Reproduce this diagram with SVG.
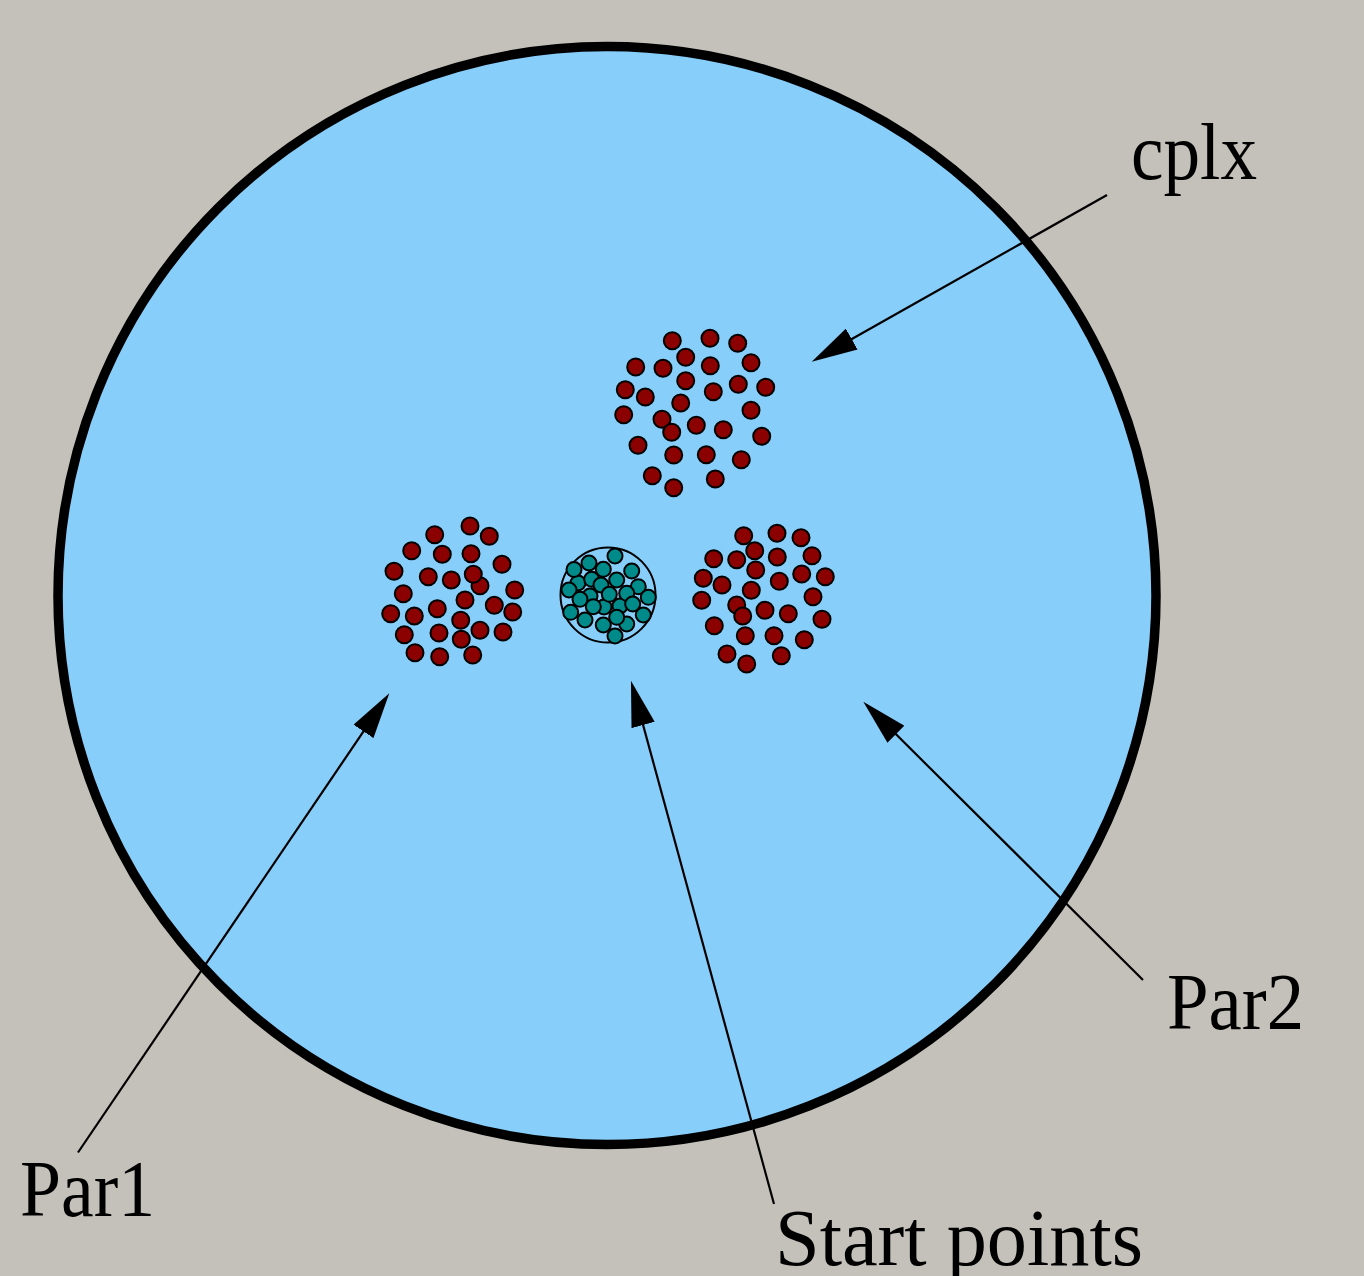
<svg xmlns="http://www.w3.org/2000/svg" width="1364" height="1276" viewBox="0 0 1364 1276">
<defs>
<style>
.r{fill:#8b0000;stroke:#000;stroke-width:2}
.t{fill:#008b8b;stroke:#000;stroke-width:2}
.lbl{font-family:"Liberation Serif","DejaVu Serif",serif;font-size:80px;fill:#000}
.ln{stroke:#000;stroke-width:2.2;fill:none;marker-end:url(#ah)}
</style>
<marker id="ah" viewBox="0 0 46 24" refX="36" refY="12" markerWidth="46" markerHeight="24" markerUnits="userSpaceOnUse" orient="auto">
<path d="M0,0 L46,12 L0,24 z" fill="#000"/>
</marker>
</defs>
<rect width="1364" height="1276" fill="#c4c1ba"/>
<g id="domain"><circle cx="607" cy="595.5" r="549" fill="#87cefa" stroke="#000" stroke-width="9.5"/></g>
<g id="cplx-cluster">
<circle class="r" cx="672.3" cy="340.7" r="8.5"/><circle class="r" cx="710" cy="338.3" r="8.5"/><circle class="r" cx="737.7" cy="343.3" r="8.5"/>
<circle class="r" cx="685.7" cy="357.3" r="8.5"/><circle class="r" cx="635.7" cy="367" r="8.5"/><circle class="r" cx="663" cy="368.3" r="8.5"/>
<circle class="r" cx="710.3" cy="365.7" r="8.5"/><circle class="r" cx="751" cy="362.7" r="8.5"/><circle class="r" cx="685.7" cy="380.7" r="8.5"/>
<circle class="r" cx="738.3" cy="384.3" r="8.5"/><circle class="r" cx="765.7" cy="387.3" r="8.5"/><circle class="r" cx="625.3" cy="389.7" r="8.5"/>
<circle class="r" cx="645.3" cy="397" r="8.5"/><circle class="r" cx="713.3" cy="391.7" r="8.5"/><circle class="r" cx="680.7" cy="403" r="8.5"/>
<circle class="r" cx="751" cy="410.3" r="8.5"/><circle class="r" cx="623.7" cy="414.7" r="8.5"/><circle class="r" cx="662" cy="419.3" r="8.5"/>
<circle class="r" cx="671.7" cy="432.3" r="8.5"/><circle class="r" cx="696.3" cy="425.3" r="8.5"/><circle class="r" cx="723.3" cy="429.7" r="8.5"/>
<circle class="r" cx="761.7" cy="436.3" r="8.5"/><circle class="r" cx="638" cy="445.3" r="8.5"/><circle class="r" cx="673.7" cy="455" r="8.5"/>
<circle class="r" cx="706.3" cy="454.7" r="8.5"/><circle class="r" cx="741.3" cy="459.7" r="8.5"/><circle class="r" cx="652.3" cy="475.7" r="8.5"/>
<circle class="r" cx="715.3" cy="479" r="8.5"/><circle class="r" cx="673.7" cy="487.7" r="8.5"/>
</g>
<g id="par1-cluster">
<circle class="r" cx="470" cy="526" r="8.5"/><circle class="r" cx="434.7" cy="534.7" r="8.5"/><circle class="r" cx="489.3" cy="536.3" r="8.5"/>
<circle class="r" cx="411.7" cy="550.7" r="8.5"/><circle class="r" cx="442.3" cy="554.3" r="8.5"/><circle class="r" cx="471" cy="553.7" r="8.5"/>
<circle class="r" cx="502" cy="564.3" r="8.5"/><circle class="r" cx="394" cy="571.3" r="8.5"/><circle class="r" cx="428.3" cy="576.7" r="8.5"/>
<circle class="r" cx="451.3" cy="580" r="8.5"/><circle class="r" cx="480" cy="585.7" r="8.5"/><circle class="r" cx="473.3" cy="574.3" r="8.5"/>
<circle class="r" cx="514.7" cy="590" r="8.5"/><circle class="r" cx="403.3" cy="593.7" r="8.5"/><circle class="r" cx="465" cy="600" r="8.5"/>
<circle class="r" cx="494.3" cy="605.3" r="8.5"/><circle class="r" cx="512.7" cy="612" r="8.5"/><circle class="r" cx="390.7" cy="613.7" r="8.5"/>
<circle class="r" cx="414.3" cy="616" r="8.5"/><circle class="r" cx="437.3" cy="608.7" r="8.5"/><circle class="r" cx="460.7" cy="620.3" r="8.5"/>
<circle class="r" cx="404.3" cy="634.7" r="8.5"/><circle class="r" cx="439" cy="633" r="8.5"/><circle class="r" cx="461.3" cy="639.3" r="8.5"/>
<circle class="r" cx="480" cy="630.3" r="8.5"/><circle class="r" cx="503" cy="632" r="8.5"/><circle class="r" cx="415" cy="652.7" r="8.5"/>
<circle class="r" cx="439.7" cy="656.7" r="8.5"/><circle class="r" cx="472.7" cy="655" r="8.5"/>
</g>
<g id="start-points">
<circle cx="608" cy="595" r="47.5" fill="none" stroke="#000" stroke-width="2"/>
<circle class="t" cx="590" cy="596" r="7.5"/><circle class="t" cx="604" cy="607" r="7.5"/><circle class="t" cx="620" cy="606" r="7.5"/>
<circle class="t" cx="578" cy="583" r="7.5"/>
<circle class="t" cx="615" cy="556" r="7.5"/><circle class="t" cx="589" cy="563" r="7.5"/><circle class="t" cx="574" cy="569.5" r="7.5"/>
<circle class="t" cx="603.3" cy="569.3" r="7.5"/><circle class="t" cx="631.7" cy="571" r="7.5"/><circle class="t" cx="591.7" cy="579.3" r="7.5"/>
<circle class="t" cx="616.7" cy="580" r="7.5"/><circle class="t" cx="601" cy="585" r="7.5"/><circle class="t" cx="638.3" cy="586.7" r="7.5"/>
<circle class="t" cx="569" cy="590" r="7.5"/><circle class="t" cx="609.3" cy="594.3" r="7.5"/><circle class="t" cx="626.7" cy="593.3" r="7.5"/>
<circle class="t" cx="648.3" cy="597.3" r="7.5"/><circle class="t" cx="580" cy="599.3" r="7.5"/><circle class="t" cx="593.3" cy="606.7" r="7.5"/>
<circle class="t" cx="632.7" cy="604" r="7.5"/><circle class="t" cx="570.7" cy="612.3" r="7.5"/><circle class="t" cx="585" cy="620" r="7.5"/>
<circle class="t" cx="643.3" cy="615" r="7.5"/><circle class="t" cx="603.3" cy="625" r="7.5"/><circle class="t" cx="626.7" cy="624" r="7.5"/>
<circle class="t" cx="616.7" cy="617.3" r="7.5"/><circle class="t" cx="615" cy="636" r="7.5"/>
</g>
<g id="par2-cluster">
<circle class="r" cx="743.7" cy="535.7" r="8.5"/><circle class="r" cx="777" cy="533.3" r="8.5"/><circle class="r" cx="801" cy="537.7" r="8.5"/>
<circle class="r" cx="754.7" cy="550.7" r="8.5"/><circle class="r" cx="713.7" cy="558.7" r="8.5"/><circle class="r" cx="736.7" cy="559.7" r="8.5"/>
<circle class="r" cx="777.3" cy="557" r="8.5"/><circle class="r" cx="812" cy="555.7" r="8.5"/><circle class="r" cx="755.7" cy="570" r="8.5"/>
<circle class="r" cx="801.7" cy="574" r="8.5"/><circle class="r" cx="825.3" cy="576.7" r="8.5"/><circle class="r" cx="703.3" cy="578.3" r="8.5"/>
<circle class="r" cx="722" cy="585" r="8.5"/><circle class="r" cx="779.3" cy="581.3" r="8.5"/><circle class="r" cx="751.3" cy="590.3" r="8.5"/>
<circle class="r" cx="813" cy="596.7" r="8.5"/><circle class="r" cx="701.7" cy="600.3" r="8.5"/><circle class="r" cx="736.7" cy="605" r="8.5"/>
<circle class="r" cx="742.7" cy="616" r="8.5"/><circle class="r" cx="765" cy="610.3" r="8.5"/><circle class="r" cx="788.3" cy="613.7" r="8.5"/>
<circle class="r" cx="822" cy="619.3" r="8.5"/><circle class="r" cx="714.3" cy="625.7" r="8.5"/><circle class="r" cx="745.3" cy="635.7" r="8.5"/>
<circle class="r" cx="774" cy="635.7" r="8.5"/><circle class="r" cx="804.3" cy="639.7" r="8.5"/><circle class="r" cx="727" cy="654" r="8.5"/>
<circle class="r" cx="781.3" cy="655.7" r="8.5"/><circle class="r" cx="746.7" cy="664" r="8.5"/>
</g>
<g id="connectors">
<line class="ln" x1="1107" y1="195" x2="820.4" y2="356.8"/>
<line class="ln" x1="78" y1="1152.5" x2="383.7" y2="701.6"/>
<line class="ln" x1="774" y1="1204" x2="633.6" y2="690.3"/>
<line class="ln" x1="1143" y1="980" x2="870.4" y2="708.8"/>
</g>
<g id="labels">
<text class="lbl" x="1131" y="179" textLength="126" lengthAdjust="spacingAndGlyphs">cplx</text>
<text class="lbl" x="1167" y="1029" textLength="137" lengthAdjust="spacingAndGlyphs">Par2</text>
<text class="lbl" x="20" y="1216" textLength="135" lengthAdjust="spacingAndGlyphs">Par1</text>
<text class="lbl" x="775" y="1265" textLength="368" lengthAdjust="spacingAndGlyphs">Start points</text>
</g>
</svg>
